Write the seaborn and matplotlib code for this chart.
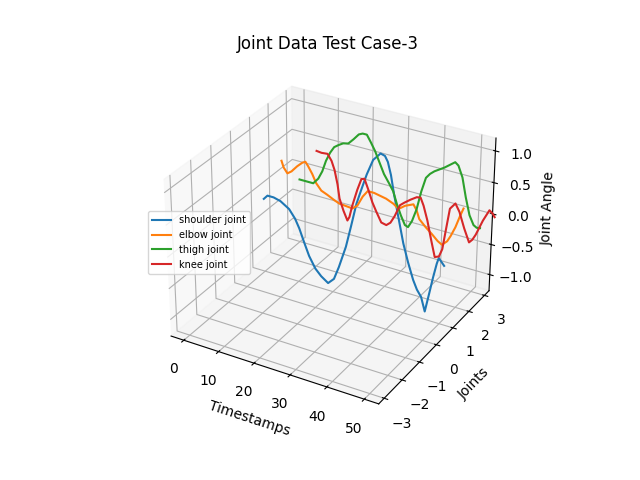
import seaborn as sns
import matplotlib.pyplot as plt

shoulder_t = [0, 1.1, 2.9, 4.9, 7.4, 9.1, 10.3, 11.7, 13.1, 14.9, 16.6, 18.6, 20.3, 21.7, 23.7, 25.1, 26.6, 28, 29.4,
              31.1, 33.1, 34.3, 35.1, 36, 36.9, 38.3, 39.7, 41.1, 42.6, 43.7, 44.9, 46, 47.1, 48, 48.9, 49.4, 50.3, 50.9]
shoulder = [-0.06, 0.01, 0.01, -0.02, -0.11, -0.24, -0.38, -0.59, -0.79, -0.97, -1.07, -1.15, -1.05, -0.83, -0.46, -0.11, 0.28, 0.54, 0.79,
            1.04, 1.17, 1.15, 1.07, 0.88, 0.6, 0.23, -0.14, -0.42, -0.68, -0.82, -0.92, -1.14, -0.82, -0.55, -0.31, -0.21, -0.27, -0.31]

elbow_t = [0, 0.6, 1.7, 2.9, 4.6, 6.1, 7, 7.8, 9, 10.1, 11.6, 13.3, 15.1, 16.8, 18.8, 20.6, 22, 23.5, 24.9,
           26.7, 28.4, 30.1, 32.2, 33.6, 35.4, 37.7, 38.6, 39.4, 41.2, 42.9, 44.6, 45.8, 47.2, 48.1, 49.3, 50.4, 51.3]
elbow = [0.33, 0.23, 0.15, 0.2, 0.31, 0.39, 0.42, 0.36, 0.25, 0.12, 0.02, -0.02, -0.07, -0.11, -0.12, -0.13, -0.06, 0.11, 0.22,
         0.22, 0.2, 0.18, 0.13, 0.07, 0.15, 0.21, 0.13, 0, -0.1, -0.18, -0.27, -0.31, -0.23, -0.13, 0.03, 0.22, 0.36]

thigh_t = [0, 2.1, 4.1, 5.6, 6.8, 7.9, 9.1, 10.3, 11.5, 12.9, 14.4, 15.9, 17.4, 18.5, 19.7, 20.9, 22.1, 23.2, 24.7, 26.2,
           27.4, 28.5, 29.7, 30.9, 31.8, 32.9, 34.1, 35.3, 36.5, 37.6, 38.8, 41.5, 44.4, 45.3, 46.5, 47.6, 48.8, 50, 50.9, 51.8]
thigh = [-0.21, -0.21, -0.21, -0.11, 0.03, 0.22, 0.37, 0.48, 0.53, 0.58, 0.6, 0.69, 0.79, 0.82, 0.82, 0.71, 0.59, 0.45, 0.26, 0.13,
         0.02, -0.17, -0.34, -0.48, -0.5, -0.38, -0.17, 0.14, 0.38, 0.46, 0.52, 0.62, 0.75, 0.71, 0.54, 0.24, -0.03, -0.17, -0.2, -0.19]

knee_t = [0, 1.5, 3.3, 4.5, 5.4, 6.3, 6.9, 8.1, 9.3, 9.9, 10.7, 12.2, 13.4, 14.3, 15.5, 16.7, 17.9, 19.4, 20.9, 22.1, 23.3, 24.8,
          26, 27.8, 29.6, 30.7, 31.6, 32.8, 34, 35.2, 36.4, 37.3, 38.2, 39.1, 40.6, 41.8, 43.3, 44.8, 45.7, 46.6, 48.4, 50.1, 51, 51.6]
knee = [0.04, 0.03, 0.04, -0.06, -0.2, -0.43, -0.66, -0.85, -1.0, -0.93, -0.73, -0.43, -0.23, -0.21, -0.38, -0.57, -0.71, -0.87, -0.89, -0.83, -0.7, -0.49,
        -0.43, -0.35, -0.28, -0.27, -0.39, -0.62, -0.92, -1.2, -1.17, -1.03, -0.67, -0.32, -0.21, -0.33, -0.58, -0.79, -0.73, -0.63, -0.37, -0.17, -0.21, -0.26]

joints = [
    ("shoulder joint", 1, shoulder_t, shoulder),
    ("elbow joint", 2, elbow_t, elbow),
    ("thigh joint", 3, thigh_t, thigh),
    ("knee joint", 4, knee_t, knee),
]

sns.set_palette("tab10")
fig = plt.figure(figsize=(6.4, 4.8), dpi=100)
ax = fig.add_subplot(projection="3d")

for name, pos, t, values in joints:
    ax.plot(t, [pos] * len(values), values, label=name)

ax.set_xlim(-3.7, 53.8)
ax.set_ylim(-3.3, 3.3)
ax.set_zlim(-1.27, 1.2)
ax.set_xlabel("Timestamps")
ax.set_ylabel("Joints")
ax.set_zlabel("Joint Angle")
ax.set_title("Joint Data Test Case-3")
ax.legend(loc="center left", bbox_to_anchor=(0.0, 0.5), fontsize=7)
fig.savefig("out.png", dpi=100)
